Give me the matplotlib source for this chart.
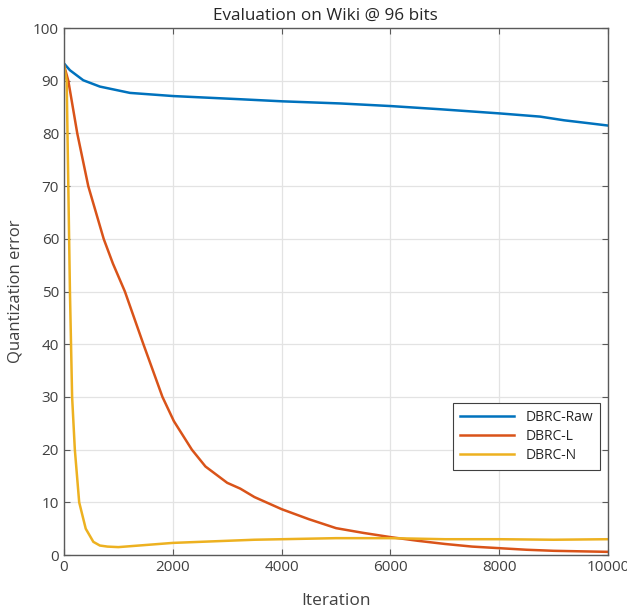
import matplotlib
matplotlib.use("Agg")
import matplotlib.pyplot as plt

# valores (iteração, erro de quantização)
raw_it = [0, 110, 355, 660, 1213, 2010, 3235, 4015, 5074, 6007, 6912, 8015, 8750, 9191, 9600, 10000]
raw_val = [93.3, 92.0, 90.1, 88.9, 87.7, 87.1, 86.5, 86.1, 85.7, 85.2, 84.6, 83.8, 83.2, 82.5, 82.0, 81.5]

l_it = [0, 80, 245, 447, 730, 900, 1120, 1460, 1810, 2020, 2350, 2600, 3000, 3240,
        3500, 4000, 4500, 5000, 5500, 6000, 6500, 7000, 7500, 8000, 8500, 9000, 9500, 10000]
l_val = [93, 90, 80, 70, 60, 55.3, 50, 40, 30, 25.4, 20, 16.8, 13.7, 12.6,
         11, 8.7, 6.8, 5.1, 4.2, 3.4, 2.7, 2.1, 1.6, 1.3, 1.0, 0.8, 0.7, 0.6]

n_it = [0, 50, 110, 150, 200, 280, 400, 540, 660, 800, 1000, 1500, 2000, 2500, 3000, 3500,
        4000, 5000, 6000, 7000, 8000, 9000, 10000]
n_val = [93, 90, 50, 30, 20, 10, 5, 2.5, 1.8, 1.6, 1.5, 1.9, 2.3, 2.5, 2.7, 2.9,
         3.0, 3.2, 3.2, 3.0, 3.0, 2.9, 3.0]

plt.rcParams['font.family'] = ['Open Sans', 'DejaVu Sans']
txt = '#404040'
eixo = '#5a5a5a'

fig = plt.figure(figsize=(6.27, 6.12), dpi=100)
ax = fig.add_axes([0.102, 0.0931, 0.868, 0.861])

ax.plot(raw_it, raw_val, color='#0072BD', lw=1.8, label='DBRC-Raw')
ax.plot(l_it, l_val, color='#D95319', lw=1.8, label='DBRC-L')
ax.plot(n_it, n_val, color='#EDB120', lw=1.8, label='DBRC-N')

ax.set_xlim(0, 10000)
ax.set_ylim(0, 100)
ax.set_xticks(range(0, 10001, 2000))
ax.set_yticks(range(0, 101, 10))
ax.grid(True, color='#e3e3e3', lw=0.9)
ax.set_axisbelow(True)
ax.tick_params(direction='in', top=True, right=True, length=4, color=eixo,
               labelcolor=txt, labelsize=11)
for s in ax.spines.values():
    s.set_color(eixo)
    s.set_linewidth(1.0)

ax.set_xlabel('Iteration', fontsize=12.5, color=txt, labelpad=13)
ax.set_ylabel('Quantization error', fontsize=12, color=txt, labelpad=7)
ax.set_title('Evaluation on Wiki @ 96 bits', fontsize=12.3, color='#262626', pad=6, x=0.481)

leg = ax.legend(loc='upper left', bbox_to_anchor=(0.702, 0.302), fontsize=10,
                fancybox=False, framealpha=1, edgecolor='#404040', handlelength=3.9,
                borderpad=0.5, labelspacing=0.3)
leg.get_frame().set_linewidth(0.8)
for t in leg.get_texts():
    t.set_color('#262626')

fig.savefig('out.png', dpi=100)
